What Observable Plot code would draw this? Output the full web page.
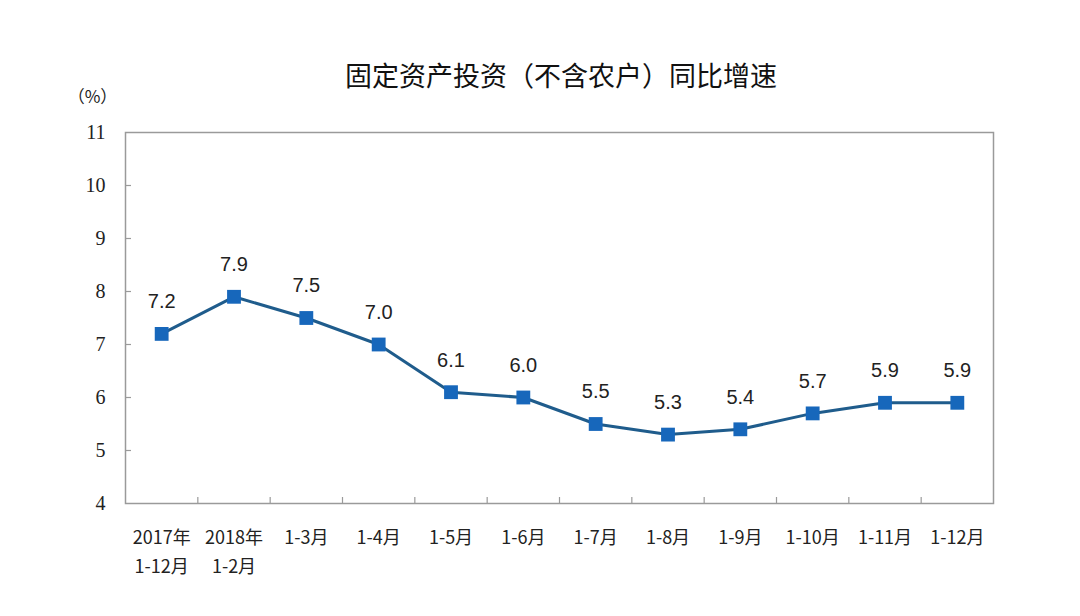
<!DOCTYPE html>
<html>
<head>
<meta charset="utf-8">
<script src="https://cdn.jsdelivr.net/npm/d3@7"></script>
<script src="https://cdn.jsdelivr.net/npm/@observablehq/plot@0.6"></script>
<style>
  html, body { margin: 0; padding: 0; background: #ffffff; }
  #title { width: 1080px; height: 80px; position: relative; }
  #title span {
    position: absolute; left: 42px; right: 0; top: 61px;
    text-align: center; font-family: "Noto Sans CJK SC", sans-serif;
    font-size: 27px; line-height: 28px; color: #111;
  }
</style>
</head>
<body>
<div id="title"><span>固定资产投资（不含农户）同比增速</span></div>
<div id="chart"></div>
<script>
const categories = ["2017年\n1-12月", "2018年\n1-2月", "1-3月", "1-4月", "1-5月", "1-6月", "1-7月", "1-8月", "1-9月", "1-10月", "1-11月", "1-12月"];
const values = [7.2, 7.9, 7.5, 7.0, 6.1, 6.0, 5.5, 5.3, 5.4, 5.7, 5.9, 5.9];
const yTickLabels = [4, 5, 6, 7, 8, 9, 10, 11];
const yUnit = "（%）";

const rows = categories.map((c, i) => ({i, label: c, value: values[i]}));
const boundaries = categories.slice(1).map((_, i) => i + 0.5);
const innerY = yTickLabels.slice(1, -1);

const chart = Plot.plot({
  width: 1080,
  height: 536,
  marginLeft: 125,
  marginRight: 87,
  marginTop: 52,
  marginBottom: 113,
  x: {domain: [-0.5, categories.length - 0.5], axis: null},
  y: {domain: [4, 11], axis: null},
  marks: [
    Plot.frame({stroke: "#9a9a9a", strokeWidth: 1.5}),
    Plot.axisY(innerY, {tickSize: -6, tickFormat: () => "", label: null, stroke: "#9a9a9a", strokeWidth: 1.2}),
    Plot.axisY(yTickLabels, {tickSize: 0, tickPadding: 20, tickFormat: d => String(d), label: null, fontSize: 20, fontFamily: "Liberation Serif, serif", fill: "#222"}),
    Plot.axisX(boundaries, {anchor: "bottom", tickSize: -6, tickFormat: () => "", label: null, stroke: "#9a9a9a", strokeWidth: 1.2}),
    Plot.text(rows, {x: "i", y: () => 4, text: "label", dy: 19, lineAnchor: "top", lineHeight: 1.65, fontSize: 18, fontFamily: "Noto Sans CJK SC, sans-serif", fill: "#222"}),
    Plot.text([yUnit], {x: () => -0.5, y: () => 11, text: d => d, dx: -33, dy: -35, fontSize: 17, fontFamily: "Noto Sans CJK SC, sans-serif", fill: "#222"}),
    Plot.line(rows, {x: "i", y: "value", stroke: "#1f5c8c", strokeWidth: 3}),
    Plot.dot(rows, {x: "i", y: "value", symbol: "square", r: 7.8, fill: "#1767bb", stroke: "none"}),
    Plot.text(rows, {x: "i", y: "value", text: d => d.value.toFixed(1), dy: -32, fontSize: 20, fontFamily: "Liberation Sans, Arial, sans-serif", fill: "#222"})
  ]
});
document.getElementById("chart").appendChild(chart);
</script>
</body>
</html>
